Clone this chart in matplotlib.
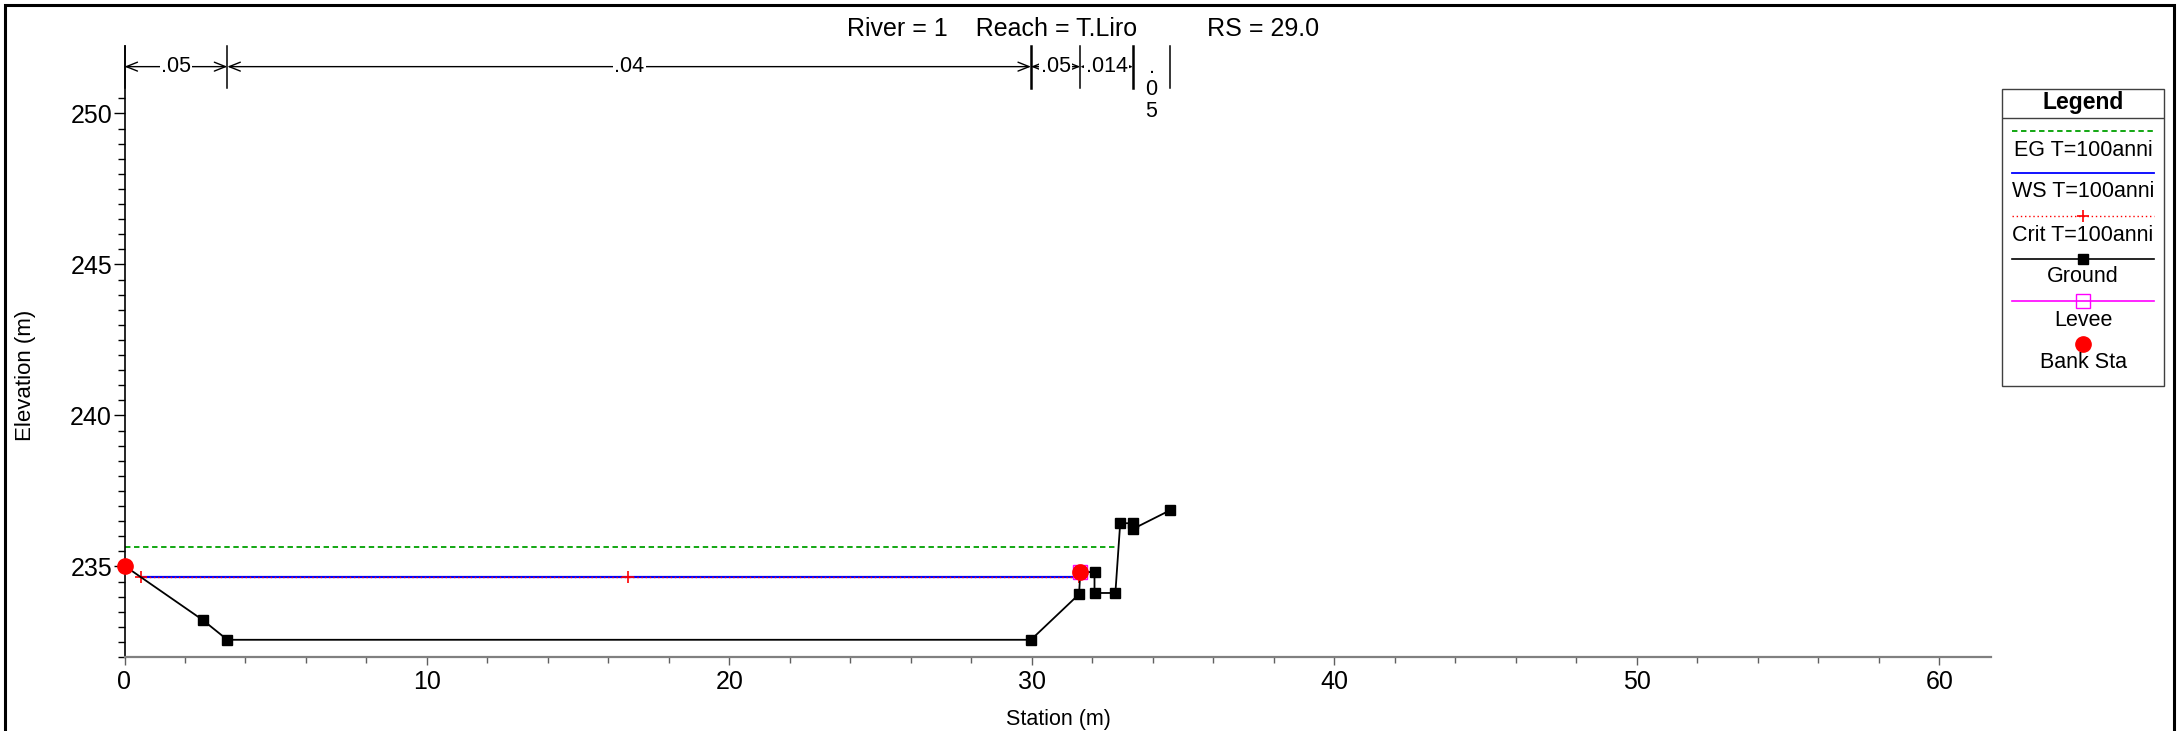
import matplotlib
matplotlib.use("Agg")
import matplotlib.pyplot as plt
from matplotlib.patches import Rectangle

plt.rcParams['font.family'] = ['Liberation Sans', 'DejaVu Sans']

# ---------------- data ----------------
title_text = "River = 1    Reach = T.Liro          RS = 29.0"

ground_x = [0.0, 2.58, 3.40, 29.97, 31.56, 31.60, 32.07, 32.07, 32.76, 32.92, 33.34, 33.34, 34.57]
ground_y = [235.02, 233.23, 232.57, 232.57, 234.08, 234.82, 234.81, 234.12, 234.12, 236.43, 236.43, 236.24, 236.86]

eg_x = [0.0, 32.82]
eg_y = [235.63, 235.63]

ws_x = [0.53, 31.56]
ws_y = [234.66, 234.66]

crit_x = [0.53, 16.65, 31.56]
crit_y = [234.66, 234.66, 234.66]

levee_x = [31.60]
levee_y = [234.82]

bank_x = [0.0, 31.60]
bank_y = [235.02, 234.82]

n_bounds = [0.0, 3.40, 29.97, 31.60, 33.34, 34.57]
n_values = [".05", ".04", ".05", ".014", ".05"]

legend_labels = ["EG T=100anni", "WS T=100anni", "Crit T=100anni", "Ground", "Levee", "Bank Sta"]

x_major = [0, 10, 20, 30, 40, 50, 60]
y_major = [235, 240, 245, 250]

# ---------------- figure ----------------
W, H = 2179, 731
fig = plt.figure(figsize=(W / 100, H / 100), dpi=100)
fig.patch.set_facecolor('white')

ax = fig.add_axes([124.5 / W, 1 - 657 / H, (1990.7 - 124.5) / W, (657 - 45.5) / H])
ax.set_xlim(0, 61.7)
ax.set_ylim(232.0, 252.25)

ax.plot(eg_x, eg_y, color='#00a000', lw=1.3, ls=(0, (3, 2)), zorder=2)
ax.plot(ws_x, ws_y, color='#0000ff', lw=1.6, zorder=3)
ax.plot(crit_x, crit_y, color='#ff0000', lw=1.0, ls=(0, (1, 2)), marker='+',
        ms=9, mew=1.2, zorder=4)
ax.plot(ground_x, ground_y, color='black', lw=1.3, marker='s', ms=7, zorder=5)
ax.plot(levee_x, levee_y, color='#ff00ff', lw=1.0, marker='s', ms=10.5,
        mfc='none', mec='#ff00ff', mew=1.0, zorder=6)
ax.plot(bank_x, bank_y, ls='none', marker='o', color='#ff0000', ms=11, zorder=7,
        clip_on=False)

# Manning's n annotations
y_arrow = 251.55
y_line_bottom = 250.85
for i, b in enumerate(n_bounds):
    lw = 1.8 if i in (2, 4) else 1.1
    ax.plot([b, b], [y_line_bottom, 252.25], color='black', lw=lw, clip_on=False, zorder=8)
for i, val in enumerate(n_values):
    x0, x1 = n_bounds[i], n_bounds[i + 1]
    xm = 0.5 * (x0 + x1)
    if x1 - x0 > 1.5:
        for xe in (x0, x1):
            ax.annotate('', xy=(xe, y_arrow), xytext=(xm, y_arrow),
                        arrowprops=dict(arrowstyle='->,head_length=0.8,head_width=0.32',
                                        lw=1.0, color='black', shrinkA=0, shrinkB=0))
        ax.text(xm, y_arrow, val, ha='center', va='center', fontsize=15.5,
                bbox=dict(facecolor='white', edgecolor='none', pad=1.0), zorder=9)
    else:
        ax.text(xm, 250.8, "\n".join(list(val)), ha='center', va='center',
                fontsize=15.5, linespacing=1.05, multialignment='center', zorder=9)

# axes styling
for s in ('top', 'right'):
    ax.spines[s].set_visible(False)
ax.spines['bottom'].set_color('#808080')
ax.spines['bottom'].set_linewidth(1.6)
ax.spines['left'].set_color('black')
ax.spines['left'].set_linewidth(1.2)

ax.set_xticks(x_major)
ax.set_xticks([v for v in range(0, 62, 2)], minor=True)
ax.set_yticks(y_major)
ax.set_yticks([232 + 0.5 * k for k in range(38)], minor=True)
ax.tick_params(axis='x', which='major', length=5.5, width=1.0, color='#606060',
               labelsize=18, pad=4)
ax.tick_params(axis='x', which='minor', length=4, width=1.0, color='#606060')
ax.tick_params(axis='y', which='major', length=8, width=1.0, labelsize=18, pad=1)
ax.tick_params(axis='y', which='minor', length=4.7, width=1.0)

fig.text(1058 / W, 1 - 720 / H, "Station (m)", ha='center', va='center', fontsize=15.5)
fig.text(26 / W, 1 - 375 / H, "Elevation (m)", ha='center', va='center',
         rotation=90, fontsize=16)
fig.text(1083 / W, 1 - 29 / H, title_text, ha='center', va='center', fontsize=18)

# ---------------- legend ----------------
lx0, lx1, ly0, ly1 = 2001.7, 2164.0, 88.3, 386.0
lax = fig.add_axes([lx0 / W, 1 - ly1 / H, (lx1 - lx0) / W, (ly1 - ly0) / H])
lax.set_xlim(lx0, lx1)
lax.set_ylim(ly1, ly0)
lax.axis('off')
lax.add_patch(Rectangle((lx0 + 0.5, ly0 + 0.5), lx1 - lx0 - 1, ly1 - ly0 - 1,
                        fill=False, edgecolor='#404040', lw=1.0, clip_on=False))
lax.plot([lx0, lx1], [117.7, 117.7], color='#404040', lw=1.0)
lax.text(2083, 102, "Legend", ha='center', va='center', fontsize=16.5, fontweight='bold')

xa, xb, xc = 2011.7, 2154.0, 2083.0
line_y = [131, 173.3, 215.7, 259, 301, 344]
text_y = [150, 191.7, 235, 276.7, 320, 362.7]
lax.plot([xa, xb], [line_y[0]] * 2, color='#00a000', lw=1.3, ls=(0, (3, 2)))
lax.plot([xa, xb], [line_y[1]] * 2, color='#0000ff', lw=1.3)
lax.plot([xa, xb], [line_y[2]] * 2, color='#ff0000', lw=1.0, ls=(0, (1, 2)))
lax.plot([xc], [line_y[2]], color='#ff0000', marker='+', ms=9, mew=1.2)
lax.plot([xa, xb], [line_y[3]] * 2, color='black', lw=1.2)
lax.plot([xc], [line_y[3]], color='black', marker='s', ms=7)
lax.plot([xa, xb], [line_y[4]] * 2, color='#ff00ff', lw=1.2)
lax.plot([xc], [line_y[4]], marker='s', ms=10.5, mfc='none', mec='#ff00ff', mew=1.0)
lax.plot([xc], [line_y[5]], marker='o', color='#ff0000', ms=11)
for lab, ty in zip(legend_labels, text_y):
    lax.text(xc, ty, lab, ha='center', va='center', fontsize=15.5)

# outer frame (bottom edge cut off in the reference)
fig.patches.append(Rectangle((5.5 / W, -0.05), (2174 - 5.5) / W, 1.05 - 5 / H,
                             transform=fig.transFigure, fill=False,
                             edgecolor='black', lw=2.2, zorder=10))

fig.savefig("out.png", dpi=100, facecolor='white')
